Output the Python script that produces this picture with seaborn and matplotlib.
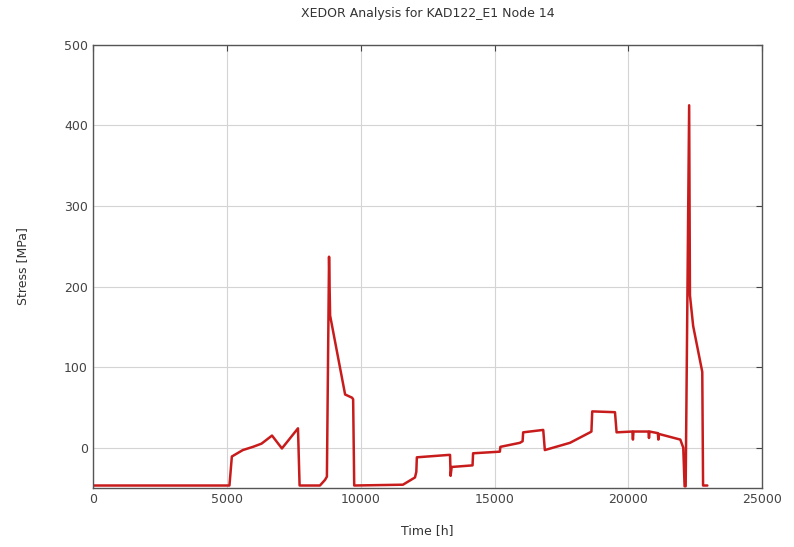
import seaborn as sns
import pandas as pd
import matplotlib.pyplot as plt

# values
time_h = [0, 5100, 5190, 5600, 5980, 6300, 6690, 7060, 7660, 7720,
          8480, 8670, 8740, 8820, 8860, 9420, 9680, 9720, 9760,
          11580, 12030, 12080, 12100, 13300, 13340, 13360, 13400, 14180, 14200,
          15200, 15220, 15950, 16050, 16070, 16820, 16880, 17820, 18570,
          18620, 18650, 19500, 19560, 20150, 20170, 20190, 20750, 20770, 20790,
          21100, 21120, 21140, 21940, 22050, 22100, 22140, 22270, 22300, 22420,
          22760, 22790, 22950]
stress_mpa = [-47, -47, -11, -3, 1, 5, 15, -1, 24, -47,
              -47, -40, -36, 237, 164, 66, 62, 60, -47,
              -46, -37, -30, -12, -9, -9, -35, -24, -22, -7,
              -5, 1, 6, 8, 19, 22, -3, 6, 19,
              20, 45, 44, 19, 20, 10, 20, 20, 12, 20,
              18, 10, 17, 10, 0, -48, -48, 425, 189, 151,
              94, -47, -47]

df = pd.DataFrame({"Time [h]": time_h, "Stress [MPa]": stress_mpa})

sns.set_style("white")
plt.rcParams['font.family'] = ['DejaVu Sans']
plt.rcParams['xtick.direction'] = 'in'
plt.rcParams['ytick.direction'] = 'in'

fig = plt.figure(figsize=(7.94, 5.47), dpi=100)
ax = fig.add_axes([0.117, 0.108, 0.843, 0.81])

sns.lineplot(data=df, x="Time [h]", y="Stress [MPa]", sort=False, estimator=None,
             color="#c81c1c", linewidth=1.8, ax=ax)

ax.set_xlim(0, 25000)
ax.set_ylim(-50, 500)
ax.set_xticks([0, 5000, 10000, 15000, 20000, 25000])
ax.set_yticks([0, 100, 200, 300, 400, 500])
ax.grid(True, color="#d4d4d4", linewidth=0.8)
ax.tick_params(axis='both', labelsize=9, colors="#444444", top=True, right=True, length=4)
for s in ax.spines.values():
    s.set_color("#555555")
    s.set_linewidth(1)

ax.set_title("XEDOR Analysis for KAD122_E1 Node 14", fontsize=9, color="#333333", pad=20)
ax.set_xlabel("Time [h]", fontsize=9, color="#333333", labelpad=13)
ax.set_ylabel("Stress [MPa]", fontsize=9, color="#333333", labelpad=25)

plt.savefig("out.png", dpi=100)
